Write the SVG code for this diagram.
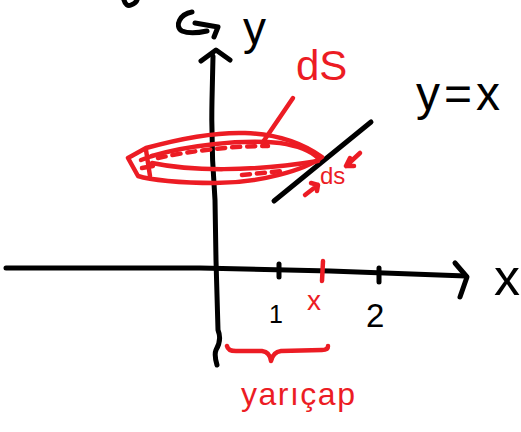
<svg xmlns="http://www.w3.org/2000/svg" width="521" height="432" viewBox="0 0 521 432">
<style>
.k{fill:none;stroke:#000;stroke-width:5;stroke-linecap:round;stroke-linejoin:round}
.r{fill:none;stroke:#ec1c24;stroke-width:4.5;stroke-linecap:round;stroke-linejoin:round}
.tk{fill:#000;font-family:"Liberation Sans",Arial,sans-serif}
.tr{fill:#ec1c24;font-family:"Liberation Sans",Arial,sans-serif}
</style>
<rect width="521" height="432" fill="#fff"/>
<g id="scribble-top">
<path class="k" d="M124 0 Q126 7 131 5 Q136 3 137 0"/>
</g>
<g id="y-axis">
<path class="k" d="M217 365 Q214 355 216 350 Q222 340 218 330 L216 260 L215 200 Q211 150 212 100 L213 56"/>
<path class="k" d="M201 61 L216 50 L230 60"/>
<path class="k" d="M192 12 C180 14 174 26 182 31 C189 34 198 33 207 31"/>
<path class="k" d="M195 23 L218 27 L214 37"/>
<text class="tk" x="243" y="44" font-size="46">y</text>
</g>
<g id="x-axis">
<path class="k" d="M6 268 L200 268 L330 271 L466 276"/>
<path class="k" d="M455 263 L467 277 L460 297"/>
<path class="k" d="M279 264 L279 277"/>
<path class="k" d="M379 268 L379 282"/>
<text class="tk" x="494" y="295" font-size="52">x</text>
<text class="tk" x="269" y="323" font-size="25">1</text>
<text class="tk" x="366" y="327" font-size="33">2</text>
</g>
<g id="line-y-eq-x">
<path class="k" d="M274 201 L371 122"/>
<text class="tk" x="416" y="110" font-size="48" letter-spacing="4">y=x</text>
</g>
<g id="ring">
<path class="r" d="M128 158 L146 148 C175 140 215 132 245 133 C280 134 305 145 322 157 C305 170 260 183 215 183 C180 183 150 180 138 176 Z"/>
<path class="r" d="M152 156 C185 146 240 139 280 143 C300 146 312 152 318 158"/>
<path class="r" d="M152 163 C190 171 250 172 318 161"/>
<path class="r" stroke-dasharray="8 7" d="M158 158 C190 151 230 146 268 146"/>
<path class="r" stroke-dasharray="8 7" d="M242 175 L282 171"/>
<path class="r" d="M146 150 L150 176 M141 160 L152 156 M142 168 L153 166"/>
</g>
<g id="label-dS">
<path class="r" d="M293 98 L263 142"/>
<text class="tr" x="296" y="80" font-size="42">dS</text>
</g>
<g id="label-ds">
<text class="tr" x="320" y="184" font-size="24">ds</text>
<path class="r" d="M360 153 L346 166 M350 158 L346 166 L354 166"/>
<path class="r" d="M305 195 L318 185 M311 183 L318 185 L317 191"/>
</g>
<g id="point-x">
<path class="r" d="M323 261 L322 281"/>
<text class="tr" x="307" y="310" font-size="28">x</text>
</g>
<g id="brace">
<path class="r" d="M227 346 Q228 351 236 351 L262 351 Q270 352 271 361 Q273 352 281 351 L322 350 Q328 350 328 346"/>
<text class="tr" x="241" y="405" font-size="32" letter-spacing="1.5">yarıçap</text>
</g>
</svg>
